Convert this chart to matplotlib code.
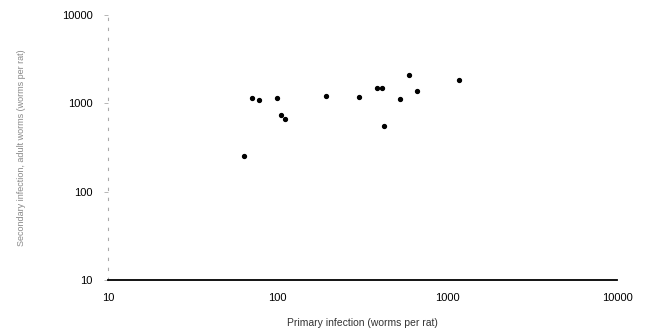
import numpy as np
import matplotlib
matplotlib.use("Agg")
import matplotlib.pyplot as plt
from matplotlib.ticker import FixedLocator, NullLocator

plt.rcParams["font.family"] = ["Liberation Sans", "DejaVu Sans"]

# primary infection (x) vs secondary recovery (y)
primary = [63, 71, 78, 99, 104, 111, 193, 301, 385, 412, 423, 526, 597, 659, 1170]
secondary = [252, 1160, 1085, 1160, 735, 660, 1210, 1180, 1480, 1480, 550, 1115, 2110, 1380, 1830]

ticks = [10, 100, 1000, 10000]
tick_labels = ["10", "100", "1000", "10000"]

fig = plt.figure(figsize=(6.45, 3.33), dpi=100)
ax = fig.add_axes([0.1674, 0.159, 0.7892, 0.796])

ax.plot(primary, secondary, "o", color="black", ms=2.8, mec="black")

ax.set_xscale("log")
ax.set_yscale("log")
ax.set_xlim(10, 10000)
ax.set_ylim(10, 10000)

ax.xaxis.set_major_locator(FixedLocator(ticks))
ax.yaxis.set_major_locator(FixedLocator(ticks))
ax.xaxis.set_minor_locator(NullLocator())
ax.yaxis.set_minor_locator(NullLocator())
ax.set_xticklabels(tick_labels)
ax.set_yticklabels(tick_labels)

ax.tick_params(axis="x", length=0, pad=9, labelsize=8)
ax.tick_params(axis="y", length=3, width=0.6, color="#aaaaaa", pad=8, labelsize=8)

for s in ["top", "right"]:
    ax.spines[s].set_visible(False)
ax.spines["bottom"].set_linewidth(1.3)
ax.spines["left"].set_linewidth(0.8)
ax.spines["left"].set_color("#aaaaaa")
ax.spines["left"].set_linestyle((0, (2, 7)))

ax.set_xlabel("Primary infection (worms per rat)", fontsize=7.5, labelpad=11,
              color="#333333")
ax.set_ylabel("Secondary infection, adult worms (worms per rat)", fontsize=6.5,
              labelpad=26, color="#888888")

fig.savefig("out.png", dpi=100)
